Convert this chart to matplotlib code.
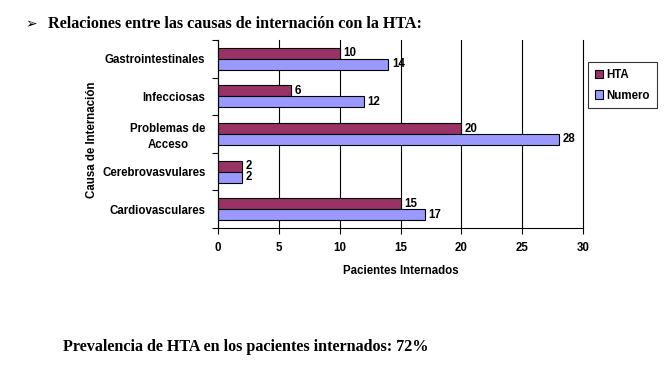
import matplotlib
matplotlib.use("Agg")
import matplotlib.pyplot as plt
import numpy as np

categories = ["Gastrointestinales", "Infecciosas", "Problemas de\nAcceso", "Cerebrovasvulares", "Cardiovasculares"]
hta = [10, 6, 20, 2, 15]
numero = [14, 12, 28, 2, 17]
xticks = [0, 5, 10, 15, 20, 25, 30]

sans = ["Liberation Sans", "DejaVu Sans"]
serif = ["Liberation Serif", "DejaVu Serif"]
fs = 8.3

fig = plt.figure(figsize=(6.71, 3.66), dpi=100)
ax = fig.add_axes([218/671, 1-228/366, (583-218)/671, (228-40)/366])

n = len(categories)
y = np.arange(n)[::-1].astype(float)
h = 0.29
b1 = ax.barh(y + h/2, hta, height=h, color="#993366", edgecolor="black", linewidth=0.8, label="HTA")
b2 = ax.barh(y - h/2, numero, height=h, color="#9999FF", edgecolor="black", linewidth=0.8, label="Numero")

for bars, vals in ((b1, hta), (b2, numero)):
    for bar, v in zip(bars, vals):
        ax.text(bar.get_width() + 0.3, bar.get_y() + bar.get_height()/2, str(v),
                va="center", ha="left", fontsize=fs, fontweight="bold", family=sans)

ax.set_xlim(0, 30)
ax.set_ylim(-0.5, n - 0.5)
ax.set_xticks(xticks)
ax.set_xticklabels([str(t) for t in xticks], fontsize=fs, fontweight="bold", family=sans)
ax.set_yticks(y)
ax.set_yticklabels(categories, fontsize=fs, fontweight="bold", family=sans, linespacing=1.4)
ax.set_yticks(np.arange(-0.5, n, 1.0), minor=True)
ax.tick_params(axis="y", which="major", length=0, pad=9)
ax.tick_params(axis="y", which="minor", length=4, direction="out", width=0.8)
ax.tick_params(axis="x", which="major", length=4, direction="out", width=0.8, pad=6)
for t in ax.get_yticklabels():
    t.set_multialignment("center")

ax.xaxis.grid(True, color="black", linewidth=0.8)
for gl in ax.get_xgridlines():
    gl.set_clip_on(False)
ax.set_axisbelow(True)
ax.spines["top"].set_visible(False)
ax.spines["right"].set_visible(False)
for s in ("left", "bottom"):
    ax.spines[s].set_linewidth(0.8)

ax.set_xlabel("Pacientes Internados", fontsize=fs, fontweight="bold", family=sans, labelpad=8)
ax.set_ylabel("Causa de Internación", fontsize=fs, fontweight="bold", family=sans)
ax.yaxis.set_label_coords((98 - 218) / 365, 0.47)

leg = ax.legend(loc="upper left", bbox_to_anchor=(588/671, 1-62/366), bbox_transform=fig.transFigure,
                borderaxespad=0,
                prop={"family": sans, "weight": "bold", "size": fs}, frameon=True, fancybox=False,
                edgecolor="black", handlelength=0.7, handleheight=0.7, handletextpad=0.3,
                borderpad=0.6, labelspacing=0.75)
leg.get_frame().set_linewidth(0.8)

fig.text(25/671, 1-24/366, "➢", fontsize=10, family=["DejaVu Sans"], va="center", ha="left")
fig.text(48/671, 1-24/366, "Relaciones entre las causas de internación con la HTA:",
         fontsize=11.6, fontweight="bold", family=serif, va="center", ha="left")
fig.text(63/671, 1-347/366, "Prevalencia de HTA en los pacientes internados: 72%",
         fontsize=11.6, fontweight="bold", family=serif, va="center", ha="left")

fig.savefig("out.png", dpi=100)
